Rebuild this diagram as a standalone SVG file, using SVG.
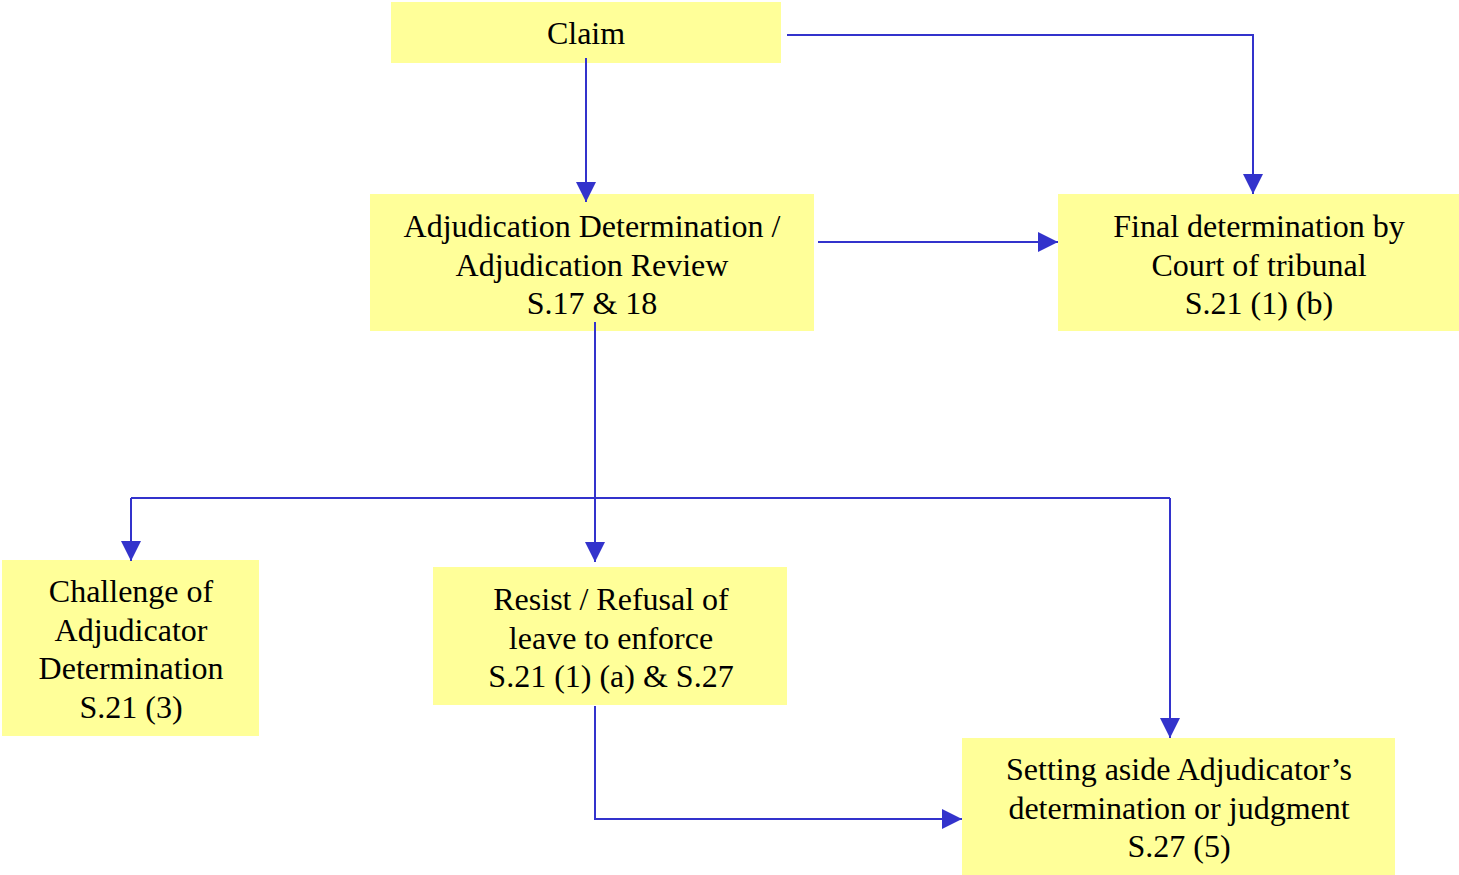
<svg xmlns="http://www.w3.org/2000/svg" width="1459" height="875" viewBox="0 0 1459 875">
<defs>
<style>
.box{fill:#FFFF99;}
text{font-family:"Liberation Serif","Times New Roman",serif;font-size:32px;fill:#000;text-anchor:middle;}
.c{fill:none;stroke:#3333CC;stroke-width:2;}
</style>
<marker id="ah" viewBox="0 0 20 20" refX="20" refY="10" markerWidth="20" markerHeight="20" markerUnits="userSpaceOnUse" orient="auto">
<path d="M0,0 L20,10 L0,20 Z" fill="#3333CC"/>
</marker>
</defs>
<rect width="1459" height="875" fill="#FFFFFF"/>
<g id="claim">
<rect class="box" x="391" y="2" width="390" height="61"/>
<text x="586" y="44">Claim</text>
</g>
<g id="adjudication">
<rect class="box" x="370" y="194" width="444" height="137"/>
<text x="592" y="237">Adjudication Determination /</text>
<text x="592" y="275.5">Adjudication Review</text>
<text x="592" y="314">S.17 &amp; 18</text>
</g>
<g id="final">
<rect class="box" x="1058" y="194" width="401" height="137"/>
<text x="1259" y="237">Final determination by</text>
<text x="1259" y="275.5">Court of tribunal</text>
<text x="1259" y="314">S.21 (1) (b)</text>
</g>
<g id="challenge">
<rect class="box" x="2" y="560" width="257" height="176"/>
<text x="131" y="602">Challenge of</text>
<text x="131" y="641">Adjudicator</text>
<text x="131" y="679">Determination</text>
<text x="131" y="718">S.21 (3)</text>
</g>
<g id="resist">
<rect class="box" x="433" y="567" width="354" height="138"/>
<text x="611" y="610">Resist / Refusal of</text>
<text x="611" y="648.5">leave to enforce</text>
<text x="611" y="687">S.21 (1) (a) &amp; S.27</text>
</g>
<g id="setting">
<rect class="box" x="962" y="738" width="433" height="137"/>
<text x="1179" y="780">Setting aside Adjudicator’s</text>
<text x="1179" y="818.5">determination or judgment</text>
<text x="1179" y="857">S.27 (5)</text>
</g>
<g id="connectors">
<path class="c" d="M586,58 V202" marker-end="url(#ah)"/>
<path class="c" d="M787,35 H1253 V194" marker-end="url(#ah)"/>
<path class="c" d="M818,242 H1058" marker-end="url(#ah)"/>
<path class="c" d="M595,322 V562" marker-end="url(#ah)"/>
<path class="c" d="M131,498 H1170"/>
<path class="c" d="M131,498 V561" marker-end="url(#ah)"/>
<path class="c" d="M1170,498 V738" marker-end="url(#ah)"/>
<path class="c" d="M595,706 V819 H962" marker-end="url(#ah)"/>
</g>
</svg>
